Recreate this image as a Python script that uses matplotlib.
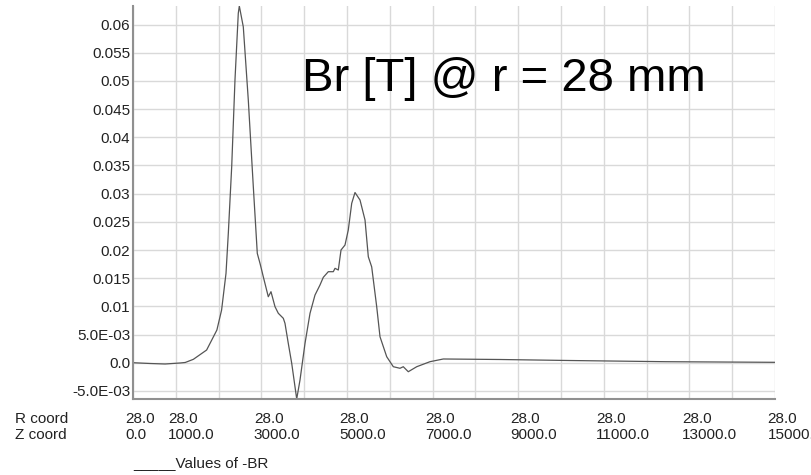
import matplotlib
matplotlib.use("Agg")
import matplotlib.pyplot as plt
import matplotlib.transforms as mtransforms

# ---- data ----
z_coord = [0, 400, 750, 1100, 1220, 1410, 1720, 1960, 2070, 2173, 2227, 2306, 2383, 2460, 2484,
           2577, 2694, 2811, 2904, 2967, 3006, 3044, 3161, 3224, 3318, 3395, 3512, 3551, 3628, 3708,
           3825, 3902, 4019, 4136, 4252, 4369, 4446, 4563, 4680, 4720, 4797, 4860, 4953, 5030, 5110,
           5187, 5304, 5421, 5498, 5577, 5694, 5771, 5928, 6082, 6238, 6315, 6432, 6629, 6939, 7250,
           8575, 10210, 12430, 15000]
neg_br = [0.0, -0.00014, -0.00023, -0.00005, 0.00004, 0.0006, 0.00225, 0.0058, 0.00935, 0.01586,
          0.02296, 0.03478, 0.05022, 0.062, 0.0633, 0.0596, 0.0466, 0.03123, 0.0194, 0.01764,
          0.01645, 0.01526, 0.01171, 0.0126, 0.00994, 0.00877, 0.00788, 0.00699, 0.00344, -0.0001,
          -0.00644, -0.00307, 0.00344, 0.00877, 0.0120, 0.01379, 0.01515, 0.01615, 0.01615, 0.01675,
          0.01645, 0.0200, 0.02088, 0.02355, 0.02828, 0.0302, 0.02887, 0.02532, 0.0188, 0.0170,
          0.00994, 0.00461, 0.00106, -0.00071, -0.00099, -0.00071, -0.0016, -0.00071, 0.00018, 0.00066,
          0.00057, 0.00039, 0.00018, 0.00007]

y_ticks = [-0.005, 0.0, 0.005, 0.01, 0.015, 0.02, 0.025, 0.03, 0.035, 0.04, 0.045, 0.05, 0.055, 0.06]
y_tick_labels = ["-5.0E-03", "0.0", "5.0E-03", "0.01", "0.015", "0.02", "0.025", "0.03", "0.035",
                 "0.04", "0.045", "0.05", "0.055", "0.06"]
x_grid = list(range(0, 15001, 1000))
x_label_pos = [0, 1000, 3000, 5000, 7000, 9000, 11000, 13000, 15000]
r_labels = ["28.0"] * len(x_label_pos)
z_labels = ["0.0", "1000.0", "3000.0", "5000.0", "7000.0", "9000.0", "11000.0", "13000.0", "15000.0"]
title_text = "Br [T] @ r = 28 mm"
legend_text = "_____Values of -BR"

plt.rcParams['font.family'] = ['Liberation Sans', 'DejaVu Sans']

W, H = 811, 475
fig = plt.figure(figsize=(W / 100, H / 100), dpi=100)
ax = fig.add_axes([133 / W, 1 - 399 / H, (775 - 133) / W, (399 - 6) / H])

ax.set_xlim(0, 15000)
ax.set_ylim(min(neg_br), max(neg_br))

grid_c = "#d9d9d9"
for y in y_ticks:
    ax.axhline(y, color=grid_c, lw=1.0, zorder=1)
for x in x_grid:
    ax.axvline(x, color=grid_c, lw=1.0, zorder=1)

ax.plot(z_coord, neg_br, color="#555555", lw=0.9, zorder=3, clip_on=True)

for s in ["top", "right"]:
    ax.spines[s].set_visible(False)
for s in ["left", "bottom"]:
    ax.spines[s].set_color("#909090")
    ax.spines[s].set_linewidth(1.5)
    ax.spines[s].set_zorder(4)

ax.set_yticks(y_ticks)
ax.set_yticklabels(y_tick_labels, fontsize=11, color="#222222")
ax.set_xticks([])
ax.tick_params(axis="y", length=0, pad=2)

# x labels (two rows)
blend = mtransforms.blended_transform_factory(ax.transData, fig.transFigure)
off = mtransforms.ScaledTranslation(-7.5 / 100, 0, fig.dpi_scale_trans)
for xp, r, zl in zip(x_label_pos, r_labels, z_labels):
    fig.text(xp, 1 - 423 / H, r, transform=blend + off, ha="left", va="baseline",
             fontsize=11, color="#222222")
    fig.text(xp, 1 - 439 / H, zl, transform=blend + off, ha="left", va="baseline",
             fontsize=11, color="#222222")

fig.text(15 / W, 1 - 423 / H, "R coord", ha="left", va="baseline", fontsize=11, color="#222222")
fig.text(15 / W, 1 - 439 / H, "Z coord", ha="left", va="baseline", fontsize=11, color="#222222")

fig.text(133 / W, 1 - 467 / H, legend_text, ha="left", va="baseline", fontsize=11, color="#222222")

fig.text(302.5 / W, 1 - 91 / H, title_text, ha="left", va="baseline", fontsize=34, color="black")

fig.savefig("out.png", dpi=100)
